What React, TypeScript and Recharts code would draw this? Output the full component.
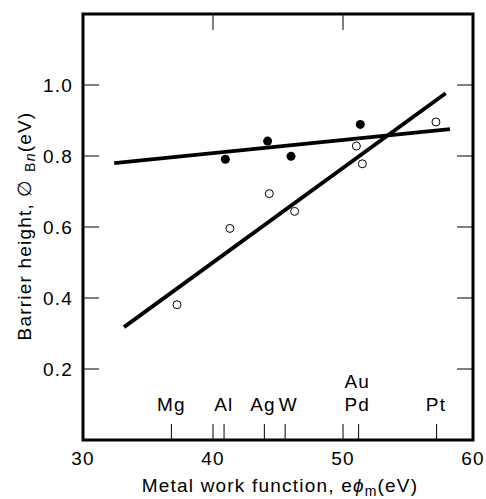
import {
  ComposedChart,
  XAxis,
  YAxis,
  Line,
  Scatter,
  ReferenceLine,
  ReferenceArea,
  ReferenceDot,
  Label,
} from "recharts";

const xTicks = [30, 40, 50, 60];
const yTicks = [0.2, 0.4, 0.6, 0.8, 1.0];

// solid dots and open circles
const filledX = [40.95, 44.2, 46.0, 51.33];
const filledY = [0.791, 0.842, 0.799, 0.889];
const openX = [37.23, 41.3, 44.33, 46.28, 51.03, 51.49, 57.15];
const openY = [0.381, 0.596, 0.694, 0.644, 0.828, 0.778, 0.896];

// fitted lines (end points)
const flatX = [32.4, 58.23];
const flatY = [0.78, 0.876];
const steepX = [33.15, 57.9];
const steepY = [0.318, 0.977];

// metals marked along the bottom
const metalTickX = [36.8, 40.85, 43.95, 45.55, 51.2, 57.2];
const metalNames = ["Mg", "Al", "Ag", "W", "Au", "Pd", "Pt"];
const metalLabelX = [36.8, 40.83, 43.85, 45.8, 51.1, 51.1, 57.15];
const metalLabelY = [0.1, 0.1, 0.1, 0.1, 0.165, 0.1, 0.1];

const innerX = [40, 50];

const filled = filledX.map((x, i) => ({ x, y: filledY[i] }));
const open = openX.map((x, i) => ({ x, y: openY[i] }));
const flat = flatX.map((x, i) => ({ x, y: flatY[i] }));
const steep = steepX.map((x, i) => ({ x, y: steepY[i] }));

const FONT = "'Liberation Sans', Arial, sans-serif";
const FS = 19;
const LS = 1.2;
const TX = 1.23; // tick length in x units
const TY = 0.045; // tick length in y units

export default function App() {
  return (
    <div style={{ position: "absolute", left: 0, top: 0 }}>
      <ComposedChart
        width={486}
        height={499}
        margin={{ top: 14, right: 13, left: 23, bottom: 0 }}
        style={{ fontFamily: FONT }}
      >
        <XAxis
          type="number"
          dataKey="x"
          domain={[30, 60]}
          ticks={xTicks}
          allowDataOverflow
          axisLine={false}
          tickLine={false}
          tickSize={0}
          tickMargin={12}
          height={59}
          tick={{ fill: "#000", fontSize: FS, letterSpacing: LS }}
        >
          <Label
            content={() => (
              <text
                x={280}
                y={492}
                textAnchor="middle"
                fontSize={FS}
                letterSpacing={LS}
                fill="#000"
                fontFamily={FONT}
              >
                {"Metal work function, e"}
                <tspan fontStyle="italic">ϕ</tspan>
                <tspan fontSize={14} dy={4}>m</tspan>
                <tspan dy={-4}>(eV)</tspan>
              </text>
            )}
          />
        </XAxis>
        <YAxis
          type="number"
          dataKey="y"
          domain={[0, 1.2]}
          ticks={yTicks}
          allowDataOverflow
          axisLine={false}
          tickLine={false}
          tickSize={0}
          tickMargin={10}
          width={60}
          tickFormatter={(v: number) => v.toFixed(1)}
          tick={{ fill: "#000", fontSize: FS, letterSpacing: LS }}
        >
          <Label
            content={() => (
              <text
                x={31}
                y={226}
                transform="rotate(-90, 31, 226)"
                textAnchor="middle"
                fontSize={FS}
                letterSpacing={LS}
                fill="#000"
                fontFamily={FONT}
              >
                {"Barrier height, ∅ "}
                <tspan fontSize={14} dy={4}>
                  B<tspan fontStyle="italic">n</tspan>
                </tspan>
                <tspan dy={-4}>(eV)</tspan>
              </text>
            )}
          />
        </YAxis>

        <ReferenceArea
          x1={30}
          x2={60}
          y1={0}
          y2={1.2}
          fill="none"
          stroke="#000"
          strokeWidth={3}
          ifOverflow="visible"
        />

        {yTicks.map((v) => (
          <ReferenceLine
            key={"l" + v}
            segment={[{ x: 30, y: v }, { x: 30 + TX, y: v }]}
            stroke="#000"
            strokeWidth={1}
          />
        ))}
        {yTicks.map((v) => (
          <ReferenceLine
            key={"r" + v}
            segment={[{ x: 60 - TX, y: v }, { x: 60, y: v }]}
            stroke="#000"
            strokeWidth={1}
          />
        ))}
        {innerX.map((v) => (
          <ReferenceLine
            key={"t" + v}
            segment={[{ x: v, y: 1.2 }, { x: v, y: 1.2 - TY }]}
            stroke="#000"
            strokeWidth={1}
          />
        ))}
        {innerX.concat(metalTickX).map((v) => (
          <ReferenceLine
            key={"b" + v}
            segment={[{ x: v, y: 0 }, { x: v, y: TY }]}
            stroke="#000"
            strokeWidth={1}
          />
        ))}

        {metalNames.map((name, i) => (
          <ReferenceDot
            key={name}
            x={metalLabelX[i]}
            y={metalLabelY[i]}
            r={0}
            fill="none"
            stroke="none"
            label={{ value: name, position: "center", fill: "#000", fontSize: FS, letterSpacing: LS }}
          />
        ))}

        <Line
          data={flat}
          dataKey="y"
          type="linear"
          stroke="#000"
          strokeWidth={3.8}
          dot={false}
          activeDot={false}
          isAnimationActive={false}
        />
        <Line
          data={steep}
          dataKey="y"
          type="linear"
          stroke="#000"
          strokeWidth={3.8}
          dot={false}
          activeDot={false}
          isAnimationActive={false}
        />
        <Scatter
          data={filled}
          dataKey="y"
          isAnimationActive={false}
          shape={(p: any) => <circle cx={p.cx} cy={p.cy} r={4.5} fill="#000" />}
        />
        <Scatter
          data={open}
          dataKey="y"
          isAnimationActive={false}
          shape={(p: any) => (
            <circle cx={p.cx} cy={p.cy} r={4} fill="#fff" stroke="#000" strokeWidth={1} />
          )}
        />
      </ComposedChart>
    </div>
  );
}
